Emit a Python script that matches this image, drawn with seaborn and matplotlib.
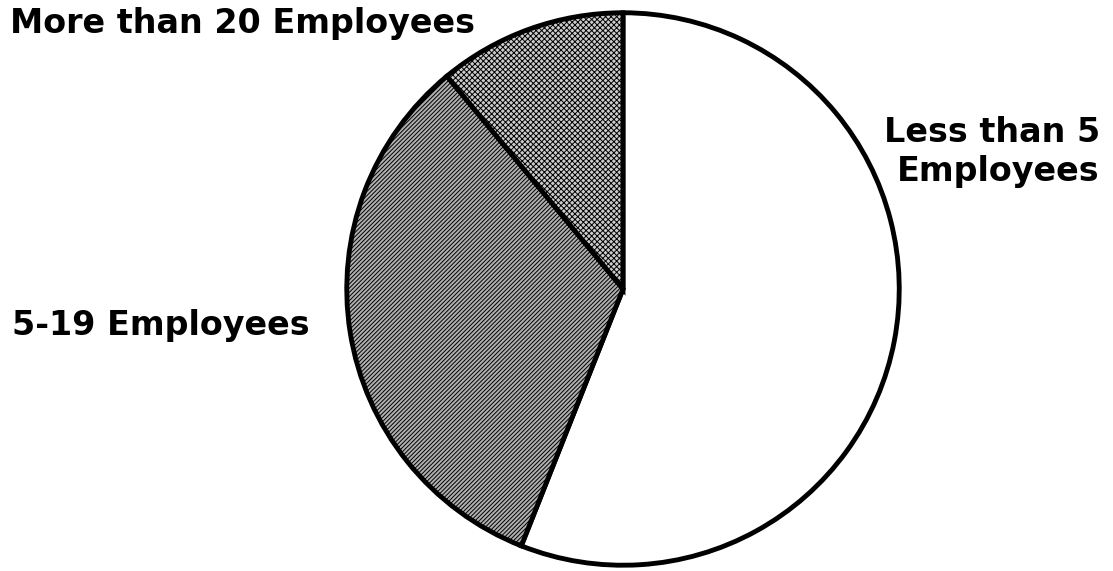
import matplotlib
matplotlib.use("Agg")
import matplotlib.pyplot as plt
import seaborn as sns

# Share of firms by size
categories = ["Less than 5\nEmployees", "5-19 Employees", "More than 20 Employees"]
shares = [56, 33, 11]

sns.set_theme(style="white")
plt.rcParams['font.family'] = ['DejaVu Sans']
plt.rcParams['hatch.linewidth'] = 0.7

fig = plt.figure(figsize=(11.13, 5.71), dpi=100)
fig.patch.set_facecolor("white")

# square axes so the pie sits where it does in the original
W, H = 1113, 571
cx, cy, r = 623, 571 - 289, 279
ax = fig.add_axes([(cx - r) / W, (cy - r) / H, 2 * r / W, 2 * r / H])

faces = ["white", "#b0b0b0", "#cccccc"]
hatches = [None, "////////", "xxxxxx"]
wedges, _ = ax.pie(shares, startangle=90, counterclock=False,
                   colors=faces,
                   wedgeprops=dict(edgecolor="black", linewidth=3.5))
for w, h in zip(wedges, hatches):
    if h:
        w.set_hatch(h)
ax.set_xlim(-1.01, 1.01)
ax.set_ylim(-1.01, 1.01)
ax.set_aspect("equal")
ax.axis("off")

# labels outside the pie
style = dict(fontsize=24, fontweight="bold", color="black")
fig.text(1100 / W, 1 - 152 / H, categories[0], ha="right", va="center",
         multialignment="right", linespacing=1.2, **style)
fig.text(12 / W, 1 - 325 / H, categories[1], ha="left", va="center", **style)
fig.text(10 / W, 1 - 24 / H, categories[2], ha="left", va="center", **style)

fig.savefig("out.png", dpi=100, facecolor="white")
